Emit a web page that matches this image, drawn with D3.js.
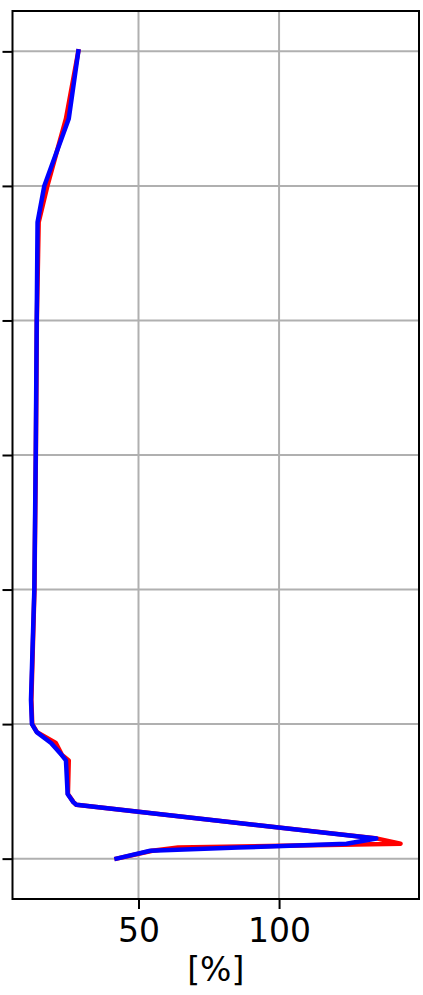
<!DOCTYPE html>
<html lang="en">
<head>
  <meta charset="UTF-8">
  <title>Profile</title>
  <script src="https://cdn.jsdelivr.net/npm/d3@7"></script>
  <style>
    html, body { margin: 0; padding: 0; background: #fff; }
    svg { display: block; }
    text { font-family: "DejaVu Sans", sans-serif; }
  </style>
</head>
<body>
  <div id="chart"></div>
  <script>
    // shared vertical levels (unlabelled axis, ticks at 0..6)
    const levels = [6.0, 5.5, 5.0, 4.73, 4.0, 3.0, 2.0, 1.18, 1.0, 0.94, 0.86, 0.77, 0.73,
      0.48, 0.42, 0.40, 0.149, 0.111, 0.082, 0.059, 0.0];
    const redValues = [28.6, 24.2, 17.6, 14.5, 13.85, 13.5, 13.0, 11.9, 12.2, 13.9, 20.6,
      22.8, 25.2, 24.9, 26.9, 27.9, 135.0, 143.2, 64.1, 54.9, 42.2];
    const blueValues = [28.6, 25.2, 16.5, 14.1, 13.8, 13.45, 12.95, 11.76, 12.1, 13.8, 18.9,
      22.7, 24.2, 24.8, 26.8, 27.9, 134.6, 124.0, 85.4, 54.2, 42.2];
    const xTicks = [50, 100];
    const yTicks = [0, 1, 2, 3, 4, 5, 6];
    const xLabel = '[%]';

    const width = 423, height = 995;
    const margin = {top: 11, right: 4, bottom: 96, left: 12.5};
    const iw = width - margin.left - margin.right;
    const ih = height - margin.top - margin.bottom;

    const svg = d3.select('#chart').append('svg')
      .attr('width', width)
      .attr('height', height);
    const g = svg.append('g').attr('transform', `translate(${margin.left},${margin.top})`);

    // 5% padding like matplotlib autoscale
    const allX = redValues.concat(blueValues);
    const [xmin, xmax] = d3.extent(allX);
    const xpad = (xmax - xmin) * 0.05;
    const [ymin, ymax] = d3.extent(levels);
    const ypad = (ymax - ymin) * 0.05;

    const x = d3.scaleLinear().domain([xmin - xpad, xmax + xpad]).range([0, iw]);
    const y = d3.scaleLinear().domain([ymin - ypad, ymax + ypad]).range([ih, 0]);

    // grid
    g.append('g').selectAll('line').data(xTicks).join('line')
      .attr('x1', d => x(d)).attr('x2', d => x(d))
      .attr('y1', 0).attr('y2', ih)
      .attr('stroke', '#b0b0b0').attr('stroke-width', 2);
    g.append('g').selectAll('line').data(yTicks).join('line')
      .attr('x1', 0).attr('x2', iw)
      .attr('y1', d => y(d)).attr('y2', d => y(d))
      .attr('stroke', '#b0b0b0').attr('stroke-width', 2);

    const line = vals => d3.line()
      .x((d, i) => x(vals[i]))
      .y(d => y(d))(levels);

    g.append('path').attr('d', line(redValues))
      .attr('fill', 'none').attr('stroke', '#ff0000')
      .attr('stroke-width', 4.5).attr('stroke-linejoin', 'round').attr('stroke-linecap', 'square');
    g.append('path').attr('d', line(blueValues))
      .attr('fill', 'none').attr('stroke', '#0000ff')
      .attr('stroke-width', 4.5).attr('stroke-linejoin', 'round').attr('stroke-linecap', 'square');

    // axes
    const xAxis = g.append('g').attr('transform', `translate(0,${ih})`)
      .call(d3.axisBottom(x).tickValues(xTicks).tickSize(10).tickPadding(10));
    xAxis.select('.domain').remove();
    xAxis.selectAll('line').attr('stroke', '#000').attr('stroke-width', 2);
    xAxis.selectAll('text').attr('font-size', 33).attr('fill', '#000')
      .attr('font-family', '"DejaVu Sans", sans-serif');

    const yAxis = g.append('g')
      .call(d3.axisLeft(y).tickValues(yTicks).tickSize(10).tickFormat(''));
    yAxis.select('.domain').remove();
    yAxis.selectAll('line').attr('stroke', '#000').attr('stroke-width', 2);

    // frame
    g.append('rect').attr('x', 0).attr('y', 0).attr('width', iw).attr('height', ih)
      .attr('fill', 'none').attr('stroke', '#000').attr('stroke-width', 2);

    svg.append('text')
      .attr('x', margin.left + iw / 2).attr('y', 981)
      .attr('text-anchor', 'middle').attr('font-size', 33).attr('fill', '#000')
      .text(xLabel);
  </script>
</body>
</html>
